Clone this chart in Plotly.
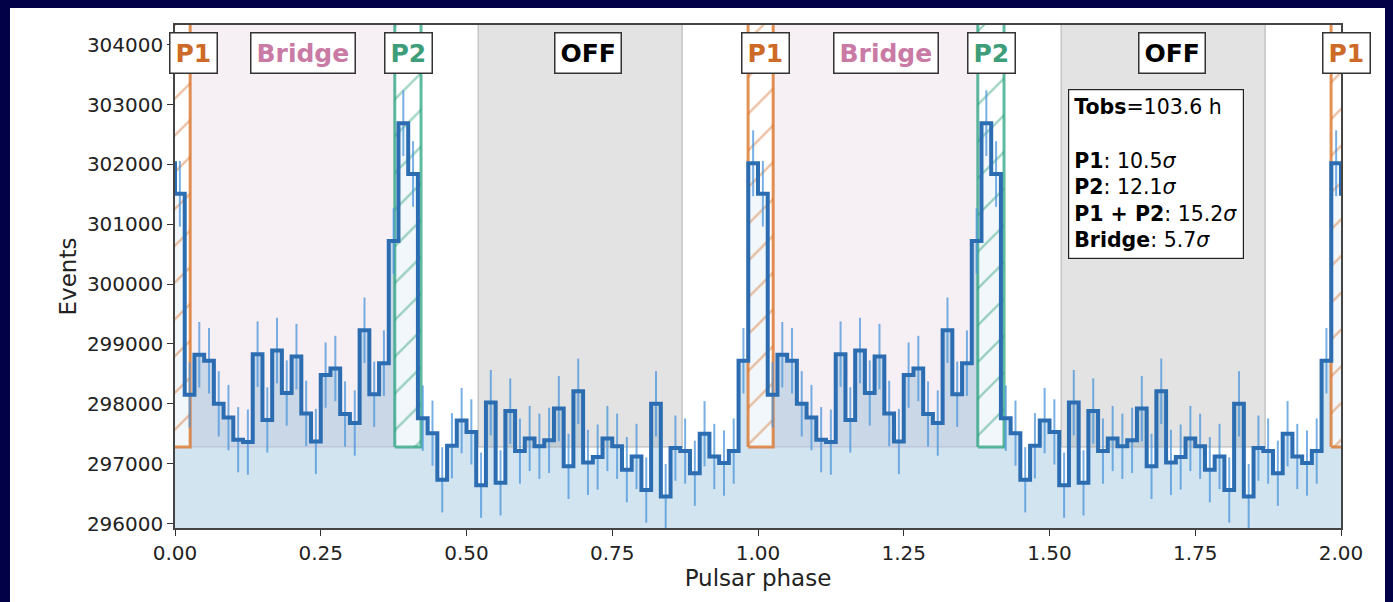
import numpy as np
import plotly.graph_objects as go

# ---------------- data (one rotation, 60 phase bins) ----------------
counts = [301510, 298150, 298820, 298720, 298000, 297770, 297400, 297360, 298830, 297730,
          298890, 298180, 298790, 297840, 297370, 298480, 298590, 297830, 297680, 299230,
          298160, 298680, 300720, 302690, 301840, 297760, 297510, 296730, 297300, 297720,
          297530, 296640, 298020, 296680, 297880, 297210, 297420, 297290, 297390, 297920,
          296955, 298210, 297020, 297110, 297420, 297290, 296900, 297120, 296560, 298000,
          296450, 297260, 297210, 296840, 297500, 297120, 297010, 297210, 298720, 302020]
errors = [549, 546, 547, 547, 546, 546, 545, 545, 547, 546,
          547, 546, 547, 546, 545, 546, 546, 546, 546, 547,
          546, 547, 548, 550, 549, 546, 545, 545, 545, 546,
          545, 545, 546, 545, 546, 545, 545, 545, 545, 546,
          545, 546, 545, 545, 545, 545, 545, 545, 545, 546,
          544, 545, 545, 545, 545, 545, 545, 545, 547, 550]
off_level = 297280
p1_range = [-0.017, 0.026]
bridge_range = [0.026, 0.377]
p2_range = [0.377, 0.422]
off_range = [0.52, 0.87]
n_cycles = 2
x_ticks = [0.0, 0.25, 0.5, 0.75, 1.0, 1.25, 1.5, 1.75, 2.0]
y_ticks = [296000, 297000, 298000, 299000, 300000, 301000, 302000, 303000, 304000]
stats_lines = [("Tobs", "=103.6 h"), None, ("P1", ": 10.5"), ("P2", ": 12.1"),
               ("P1 + P2", ": 15.2"), ("Bridge", ": 5.7")]

# ---------------- derived arrays ----------------
nb = len(counts)
vals = [counts[-1]] + counts * n_cycles + [counts[0]]
errs = [errors[-1]] + errors * n_cycles + [errors[0]]
idx = np.arange(-1, nb * n_cycles + 1)
left_edges = idx / nb
centers = (idx + 0.5) / nb
step_x = list(left_edges) + [(idx[-1] + 1) / nb]
step_y = vals + [vals[-1]]

FONT = "DejaVu Sans"
X_LO, X_HI = 0, 2
Y_LO, Y_HI = 295925, 304330
TOPV = 306000
BOTV = 295000

fig = go.Figure()


def box(x0, x1, y0, y1, **kw):
    return go.Scatter(x=[x0, x1, x1, x0, x0], y=[y0, y0, y1, y1, y0], mode="lines",
                      fill="toself", hoverinfo="skip", showlegend=False, **kw)


# Bridge regions (under the fill)
for c in range(n_cycles):
    fig.add_trace(box(bridge_range[0] + c, bridge_range[1] + c, off_level, TOPV,
                      fillcolor="#f6eff4", line=dict(color="rgba(200,170,200,0.5)", width=1)))

# blue fill under histogram
fig.add_trace(go.Scatter(x=step_x, y=[BOTV] * len(step_x), mode="lines", line=dict(width=0),
                         hoverinfo="skip", showlegend=False))
fig.add_trace(go.Scatter(x=step_x, y=step_y, mode="lines", line=dict(width=0, shape="hv"),
                         fill="tonexty", fillcolor="rgba(31,119,180,0.2)",
                         hoverinfo="skip", showlegend=False))

# OFF regions
for c in range(n_cycles):
    fig.add_trace(box(off_range[0] + c, off_range[1] + c, off_level, TOPV,
                      fillcolor="rgba(128,128,128,0.22)",
                      line=dict(color="rgba(160,160,160,0.5)", width=1.5)))

# P1 / P2 hatched regions
for c in range(n_cycles + 1):
    fig.add_trace(box(p1_range[0] + c, p1_range[1] + c, off_level, TOPV,
                      fillcolor="rgba(255,255,255,0.7)",
                      fillpattern=dict(shape="/", size=26, solidity=0.09,
                                       fgcolor="rgba(210,105,35,0.85)",
                                       bgcolor="rgba(255,255,255,0.72)"),
                      line=dict(color="rgba(217,110,30,0.75)", width=3)))
for c in range(n_cycles):
    fig.add_trace(box(p2_range[0] + c, p2_range[1] + c, off_level, TOPV,
                      fillcolor="rgba(255,255,255,0.7)",
                      fillpattern=dict(shape="/", size=26, solidity=0.09,
                                       fgcolor="rgba(27,150,110,0.85)",
                                       bgcolor="rgba(255,255,255,0.72)"),
                      line=dict(color="rgba(27,158,119,0.7)", width=3)))

# error bars
fig.add_trace(go.Scatter(x=centers, y=vals, mode="markers", marker=dict(size=0.1, color="rgba(0,0,0,0)"),
                         error_y=dict(type="data", array=errs, visible=True, width=0,
                                      thickness=2, color="rgba(75,150,220,0.75)"),
                         hoverinfo="skip", showlegend=False))

# histogram step line
fig.add_trace(go.Scatter(x=step_x, y=step_y, mode="lines",
                         line=dict(color="#2c6db2", width=4, shape="hv"),
                         hoverinfo="skip", showlegend=False))

# region labels (positioned in paper coordinates so the edge label is not hidden)
labels = [("P1", "#cd6a28", [0.031, 1.013, 2.010]),
          ("Bridge", "#c97aa5", [0.219, 1.219]),
          ("P2", "#3e9e7a", [0.401, 1.4005]),
          ("OFF", "#000000", [0.709, 1.710])]
for txt, col, xs in labels:
    for xv in xs:
        fig.add_annotation(x=(xv - X_LO) / (X_HI - X_LO), y=0.986, xref="paper", yref="paper",
                           xanchor="center", yanchor="top",
                           text="<b>%s</b>" % txt, showarrow=False,
                           font=dict(family=FONT, size=25, color=col),
                           bgcolor="white", bordercolor="#333333", borderwidth=1.5, borderpad=5)

# statistics box
parts = []
for ln in stats_lines:
    if ln is None:
        parts.append("")
    elif ln[0] == "Tobs":
        parts.append("<b>%s</b>%s" % ln)
    else:
        parts.append("<b>%s</b>%s<i>σ</i>" % ln)
fig.add_annotation(x=(1068 - 175) / 1166, y=(528 - 89) / 503, xref="paper", yref="paper",
                   xanchor="left", yanchor="top", align="left", showarrow=False,
                   text="<br>".join(parts), font=dict(family=FONT, size=20.5, color="black"),
                   bgcolor="white", bordercolor="#222222", borderwidth=1.2, borderpad=5)

# navy slide frame + white figure area
fig.add_shape(type="rect", xref="paper", yref="paper",
              x0=(10 - 175) / 1166, x1=(1385 - 175) / 1166,
              y0=(528 - 602) / 503, y1=(528 - 8) / 503,
              fillcolor="white", line=dict(width=0), layer="below")

axis_common = dict(showgrid=False, zeroline=False, showline=True, linecolor="#444444", linewidth=1.5,
                   mirror=True, ticks="outside", ticklen=6, tickwidth=1.3, tickcolor="#333333",
                   tickfont=dict(family=FONT, size=20, color="#222222"))
fig.update_xaxes(range=[X_LO, X_HI], tickvals=x_ticks, ticktext=["%.2f" % v for v in x_ticks],
                 title=dict(text="Pulsar phase", font=dict(family=FONT, size=23, color="#222222"), standoff=6),
                 **axis_common)
fig.update_yaxes(range=[Y_LO, Y_HI], tickvals=y_ticks, ticktext=[str(v) for v in y_ticks],
                 title=dict(text="Events", font=dict(family=FONT, size=23, color="#222222"), standoff=4),
                 **axis_common)
fig.update_layout(width=1393, height=602, margin=dict(l=175, r=52, t=25, b=74),
                  paper_bgcolor="#020046", plot_bgcolor="white", showlegend=False,
                  font=dict(family=FONT))
fig.write_html("out.html")
